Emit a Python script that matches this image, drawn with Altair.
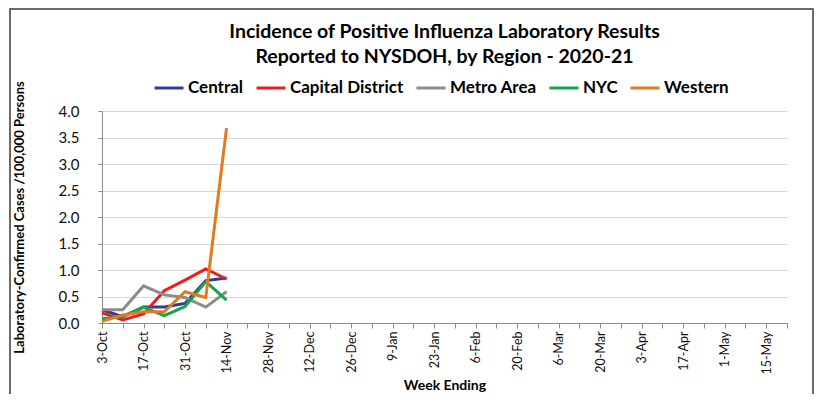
import altair as alt
import pandas as pd

weeks = ["2020-10-03", "2020-10-10", "2020-10-17", "2020-10-24",
         "2020-10-31", "2020-11-07", "2020-11-14"]
regions = ["Central", "Capital District", "Metro Area", "NYC", "Western"]
central = [0.25, 0.12, 0.30, 0.30, 0.37, 0.80, 0.85]
capital = [0.19, 0.06, 0.17, 0.61, 0.81, 1.02, 0.83]
metro = [0.25, 0.25, 0.70, 0.53, 0.48, 0.30, 0.59]
nyc = [0.08, 0.12, 0.30, 0.14, 0.31, 0.78, 0.43]
western = [0.03, 0.15, 0.21, 0.21, 0.59, 0.48, 3.68]
colors = ["#38389c", "#ee1c1c", "#8c8c8c", "#13a54a", "#e07b22"]

series = [central, capital, metro, nyc, western]
rows = []
for name, vals in zip(regions, series):
    for w, v in zip(weeks, vals):
        rows.append({"week": w, "region": name, "value": v})
df = pd.DataFrame(rows)

axis_start = "2020-10-03"
axis_end = "2021-05-22"
tick_ms = [int(t.value // 10**6) for t in pd.date_range(axis_start, axis_end, freq="7D")]
start_ms = tick_ms[0]
week_ms = 7 * 86400000

FONT = "Lato"

label_expr = (
    f"(round((datum.value - {start_ms}) / {week_ms}) % 2 == 0) ? "
    "utcFormat(datum.value, '%-d-%b') : ''"
)

lines = alt.Chart(df).mark_line(strokeWidth=3, clip=False).encode(
    x=alt.X(
        "week:T",
        scale=alt.Scale(type="utc", domain=[tick_ms[0], tick_ms[-1]], nice=False),
        axis=alt.Axis(
            title="Week Ending",
            values=tick_ms,
            labelExpr=label_expr,
            labelAngle=270,
            labelAlign="right",
            labelBaseline="middle",
            labelFontSize=12.5,
            labelPadding=3,
            tickSize=5,
            grid=False,
            titleFontSize=14,
            titleFontWeight="bold",
            titlePadding=4,
        ),
    ),
    y=alt.Y(
        "value:Q",
        scale=alt.Scale(domain=[0, 4], nice=False),
        axis=alt.Axis(
            title="Laboratory-Confirmed Cases /100,000 Persons",
            values=[0, 0.5, 1, 1.5, 2, 2.5, 3, 3.5, 4],
            format=".1f",
            labelFontSize=15,
            labelPadding=19,
            tickSize=4,
            titleFontSize=13,
            titleFontWeight="bold",
            titlePadding=32,
        ),
    ),
    color=alt.Color(
        "region:N",
        scale=alt.Scale(domain=regions, range=colors),
        legend=alt.Legend(
            title=None,
            orient="none",
            direction="horizontal",
            legendX=51,
            legendY=-39,
            symbolType="stroke",
            symbolSize=841,
            symbolStrokeWidth=3,
            labelFontSize=17,
            labelFontWeight="bold",
            labelOffset=3,
            columnPadding=6,
        ),
    ),
    order=alt.Order("region_order:Q"),
).transform_calculate(
    region_order=f"indexof({regions}, datum.region)"
)

frame = alt.Chart(alt.Data(values=[{}])).mark_rect(
    fillOpacity=0, stroke="#3a3a3a", strokeWidth=1.5, clip=False
).encode(
    x=alt.value(-92), x2=alt.value(711), y=alt.value(-102), y2=alt.value(330)
)

chart = alt.layer(frame, lines).properties(
    width=685,
    height=212,
    autosize=alt.AutoSizeParams(type="none"),
    padding={"left": 94, "top": 103, "right": 27, "bottom": 71},
    title=alt.TitleParams(
        text=["Incidence of Positive Influenza Laboratory Results",
              "Reported to NYSDOH, by Region - 2020-21"],
        fontSize=19.5,
        fontWeight="bold",
        font=FONT,
        color="#000000",
        anchor="middle",
        frame="group",
        lineHeight=25,
        offset=-59,
    ),
).configure(font=FONT).configure_axis(
    labelFont=FONT,
    titleFont=FONT,
    labelColor="#111111",
    titleColor="#000000",
    domainColor="#8c8c8c",
    tickColor="#8c8c8c",
    gridColor="#d9d9d9",
).configure_legend(
    labelFont=FONT, labelColor="#000000"
).configure_view(stroke=None)

chart.save("out.html", embed_options={"renderer": "svg", "actions": False})
